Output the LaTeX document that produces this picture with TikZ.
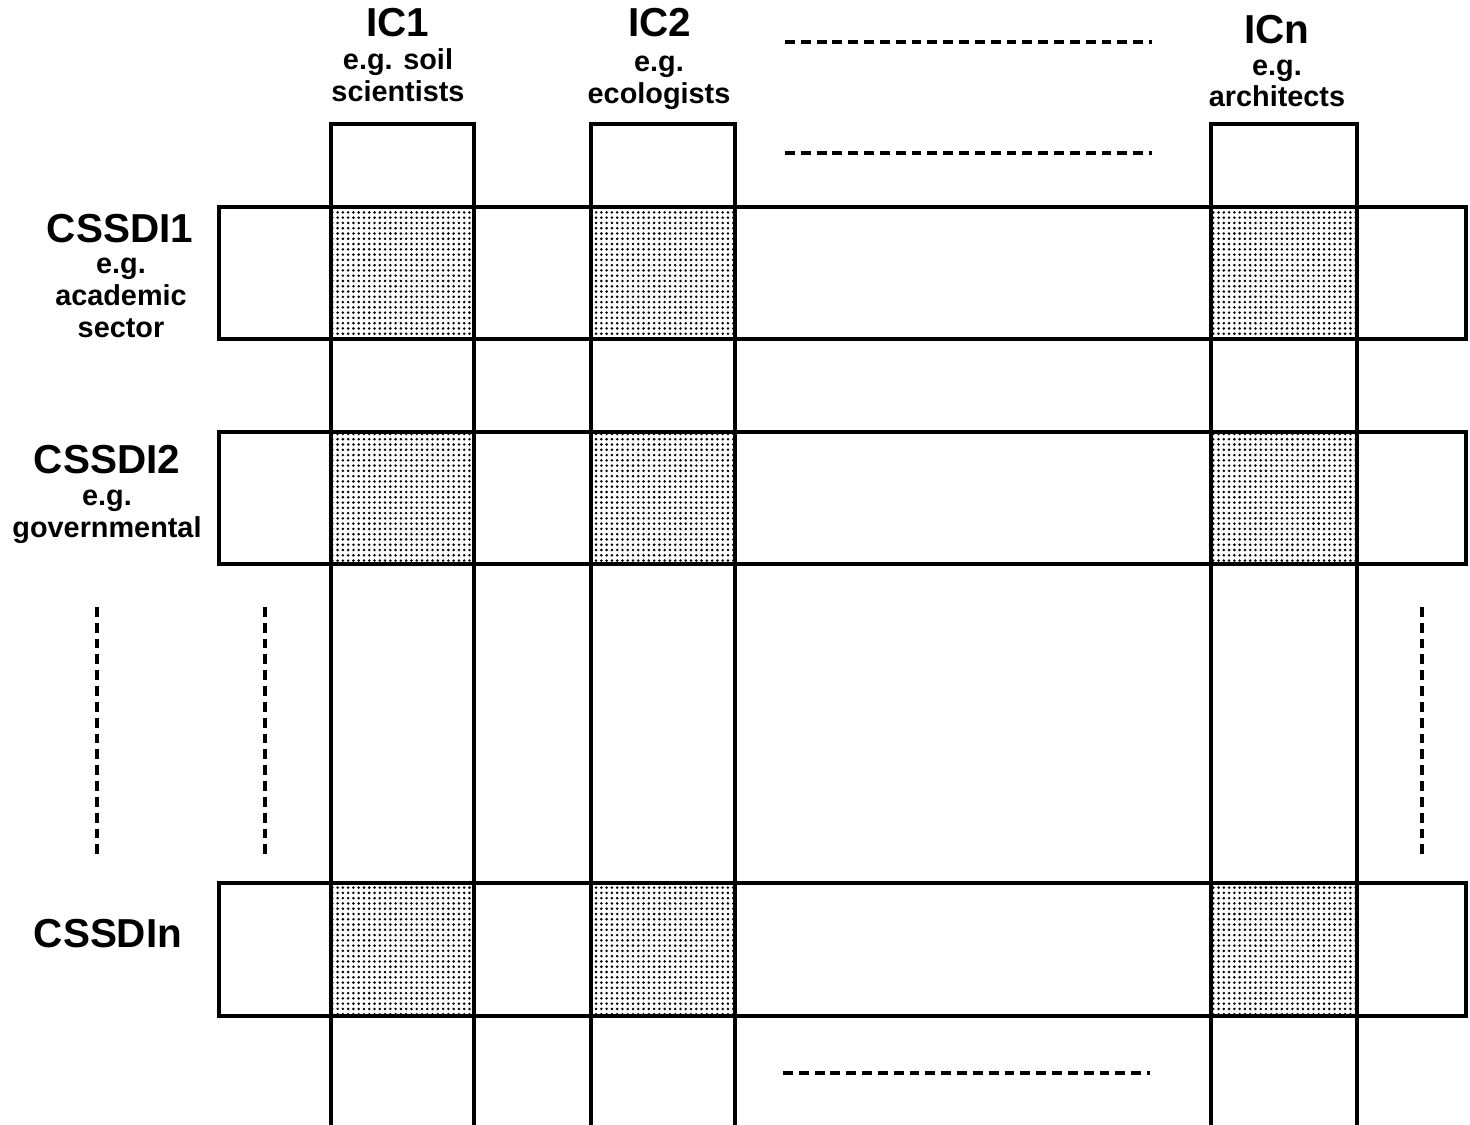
\documentclass[tikz,border=0pt]{standalone}
\usepackage{fontspec}
\setmainfont{Liberation Sans}
\usetikzlibrary{patterns.meta}
\begin{document}
\begin{tikzpicture}[x=0.01cm, y=-0.01cm, line width=0.9pt,
    every node/.style={font=\bfseries, inner sep=0pt},
    head/.style={font=\fontsize{11.5}{13}\bfseries},
    sub/.style={font=\fontsize{8.2}{9}\bfseries, align=center},
    cell/.style={draw, pattern={Dots[distance=1.5pt, radius=0.4pt]}},
    gap/.style={dash pattern=on 2.8pt off 1.7pt}]
  \useasboundingbox (0,0) rectangle (1470,1125);
  % columns (interest communities)
  \foreach \xl/\xr in {331/474, 591/735, 1211/1357}
    \draw (\xl,1125) -- (\xl,124) -- (\xr,124) -- (\xr,1125);
  % rows (CSSDIs)
  \foreach \yt/\yb in {207/339, 432/564, 883/1016} {
    \draw[fill=white] (219,\yt) rectangle (1466,\yb);
    \foreach \xl/\xr in {331/474, 591/735, 1211/1357}
      \draw[cell] (\xl,\yt) rectangle (\xr,\yb);
  }
  % column labels
  \node[head] (ic1) at (398,23) {IC1};
  \node[sub] (ic1sub) at (398,75.5) {e.g. soil\\scientists};
  \node[head] (ic2) at (660,23) {IC2};
  \node[sub] (ic2sub) at (659,83) {e.g.\\ecologists};
  \node[head] (icn) at (1277,30) {ICn};
  \node[sub] (icnsub) at (1277,83.5) {e.g.\\architects};
  % row labels
  \node[head] (r1) at (120,229) {CSSDI1};
  \node[sub] (r1sub) at (121,298) {e.g.\\academic\\sector};
  \node[head] (r2) at (107,460) {CSSDI2};
  \node[sub] (r2sub) at (107,516.5) {e.g.\\governmental};
  \node[head] (rn) at (108,934) {CSSDIn};
  % omitted ones
  \draw[gap] (785,42) -- (1152,42);
  \draw[gap] (785,153) -- (1152,153);
  \draw[gap] (783,1073) -- (1150,1073);
  \draw[gap] (97,607) -- (97,857);
  \draw[gap] (265,607) -- (265,857);
  \draw[gap] (1422,607) -- (1422,857);
\end{tikzpicture}
\end{document}
